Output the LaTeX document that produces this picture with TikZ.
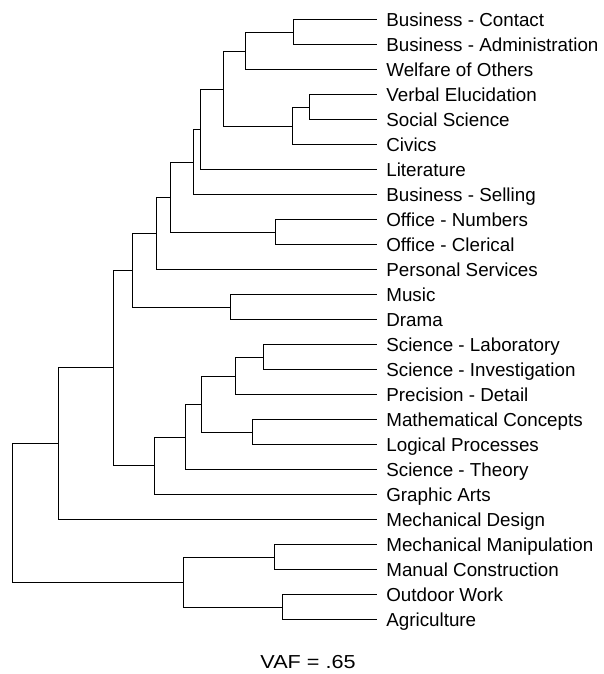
\documentclass[tikz,border=0pt]{standalone}
\usepackage{fontspec}
\setmainfont{Liberation Sans}
\usepackage{tikz}

\begin{document}
\begin{tikzpicture}[x=1pt,y=-1pt,line width=1.7pt,
  leaf/.style={anchor=base west,inner sep=0pt,xshift=9pt,yshift=-6.7pt,font=\fontsize{18.8}{22}\selectfont}]
\useasboundingbox (0,0) rectangle (603,674);
% leaf ends
\coordinate (l1) at (376.5,19.5);
\coordinate (l2) at (376.5,44.5);
\coordinate (l3) at (376.5,69.5);
\coordinate (l4) at (376.5,94.5);
\coordinate (l5) at (376.5,119.5);
\coordinate (l6) at (376.5,144.5);
\coordinate (l7) at (376.5,169.5);
\coordinate (l8) at (376.5,194.5);
\coordinate (l9) at (376.5,219.5);
\coordinate (l10) at (376.5,244.5);
\coordinate (l11) at (376.5,269.5);
\coordinate (l12) at (376.5,294.5);
\coordinate (l13) at (376.5,319.5);
\coordinate (l14) at (376.5,344.5);
\coordinate (l15) at (376.5,369.5);
\coordinate (l16) at (376.5,394.5);
\coordinate (l17) at (376.5,419.5);
\coordinate (l18) at (376.5,444.5);
\coordinate (l19) at (376.5,469.5);
\coordinate (l20) at (376.5,494.5);
\coordinate (l21) at (376.5,519.5);
\coordinate (l22) at (376.5,544.5);
\coordinate (l23) at (376.5,569.5);
\coordinate (l24) at (376.5,594.5);
\coordinate (l25) at (376.5,619.5);
% labels
\node[leaf] (t1) at (l1) {Business - Contact};
\node[leaf] (t2) at (l2) {Business - Administration};
\node[leaf] (t3) at (l3) {Welfare of Others};
\node[leaf] (t4) at (l4) {Verbal Elucidation};
\node[leaf] (t5) at (l5) {Social Science};
\node[leaf] (t6) at (l6) {Civics};
\node[leaf] (t7) at (l7) {Literature};
\node[leaf] (t8) at (l8) {Business - Selling};
\node[leaf] (t9) at (l9) {Office - Numbers};
\node[leaf] (t10) at (l10) {Office - Clerical};
\node[leaf] (t11) at (l11) {Personal Services};
\node[leaf] (t12) at (l12) {Music};
\node[leaf] (t13) at (l13) {Drama};
\node[leaf] (t14) at (l14) {Science - Laboratory};
\node[leaf] (t15) at (l15) {Science - Investigation};
\node[leaf] (t16) at (l16) {Precision - Detail};
\node[leaf] (t17) at (l17) {Mathematical Concepts};
\node[leaf] (t18) at (l18) {Logical Processes};
\node[leaf] (t19) at (l19) {Science - Theory};
\node[leaf] (t20) at (l20) {Graphic Arts};
\node[leaf] (t21) at (l21) {Mechanical Design};
\node[leaf] (t22) at (l22) {Mechanical Manipulation};
\node[leaf] (t23) at (l23) {Manual Construction};
\node[leaf] (t24) at (l24) {Outdoor Work};
\node[leaf] (t25) at (l25) {Agriculture};
% merges
\coordinate (ma) at (293.5,32.5);
\coordinate (mb) at (245.5,51.5);
\coordinate (mc) at (309.5,107.5);
\coordinate (md) at (292.5,126.5);
\coordinate (me) at (223.5,89.5);
\coordinate (mf) at (200.5,129.5);
\coordinate (mg) at (193.5,162.5);
\coordinate (moff) at (275.5,232.5);
\coordinate (mh) at (170.5,197.5);
\coordinate (mi) at (156.5,233.5);
\coordinate (mmus) at (230.5,307.5);
\coordinate (mj) at (132.5,270.5);
\coordinate (msci) at (263.5,357.5);
\coordinate (mk) at (235.5,376.5);
\coordinate (mmath) at (252.5,432.5);
\coordinate (ml) at (201.5,404.5);
\coordinate (mm) at (185.5,437.5);
\coordinate (mn) at (154.5,465.5);
\coordinate (mo) at (113.5,367.5);
\coordinate (mp) at (58.5,443.5);
\coordinate (mq1) at (274.5,557.5);
\coordinate (mq2) at (282.5,607.5);
\coordinate (mq) at (183.5,582.5);
\coordinate (mroot) at (12.5,512.5);
\draw (l1) -| (ma) |- (l2);
\draw (ma) -| (mb) |- (l3);
\draw (l4) -| (mc) |- (l5);
\draw (mc) -| (md) |- (l6);
\draw (mb) -| (me) |- (md);
\draw (me) -| (mf) |- (l7);
\draw (mf) -| (mg) |- (l8);
\draw (l9) -| (moff) |- (l10);
\draw (mg) -| (mh) |- (moff);
\draw (mh) -| (mi) |- (l11);
\draw (l12) -| (mmus) |- (l13);
\draw (mi) -| (mj) |- (mmus);
\draw (l14) -| (msci) |- (l15);
\draw (msci) -| (mk) |- (l16);
\draw (l17) -| (mmath) |- (l18);
\draw (mk) -| (ml) |- (mmath);
\draw (ml) -| (mm) |- (l19);
\draw (mm) -| (mn) |- (l20);
\draw (mj) -| (mo) |- (mn);
\draw (mo) -| (mp) |- (l21);
\draw (l22) -| (mq1) |- (l23);
\draw (l24) -| (mq2) |- (l25);
\draw (mq1) -| (mq) |- (mq2);
\draw (mp) -| (mroot) |- (mq);
\node[anchor=base,inner sep=0pt,transform shape,xscale=1.15,font=\fontsize{18.8}{22}\selectfont] (vaf) at (308,668) {VAF = .65};
\end{tikzpicture}
\end{document}
